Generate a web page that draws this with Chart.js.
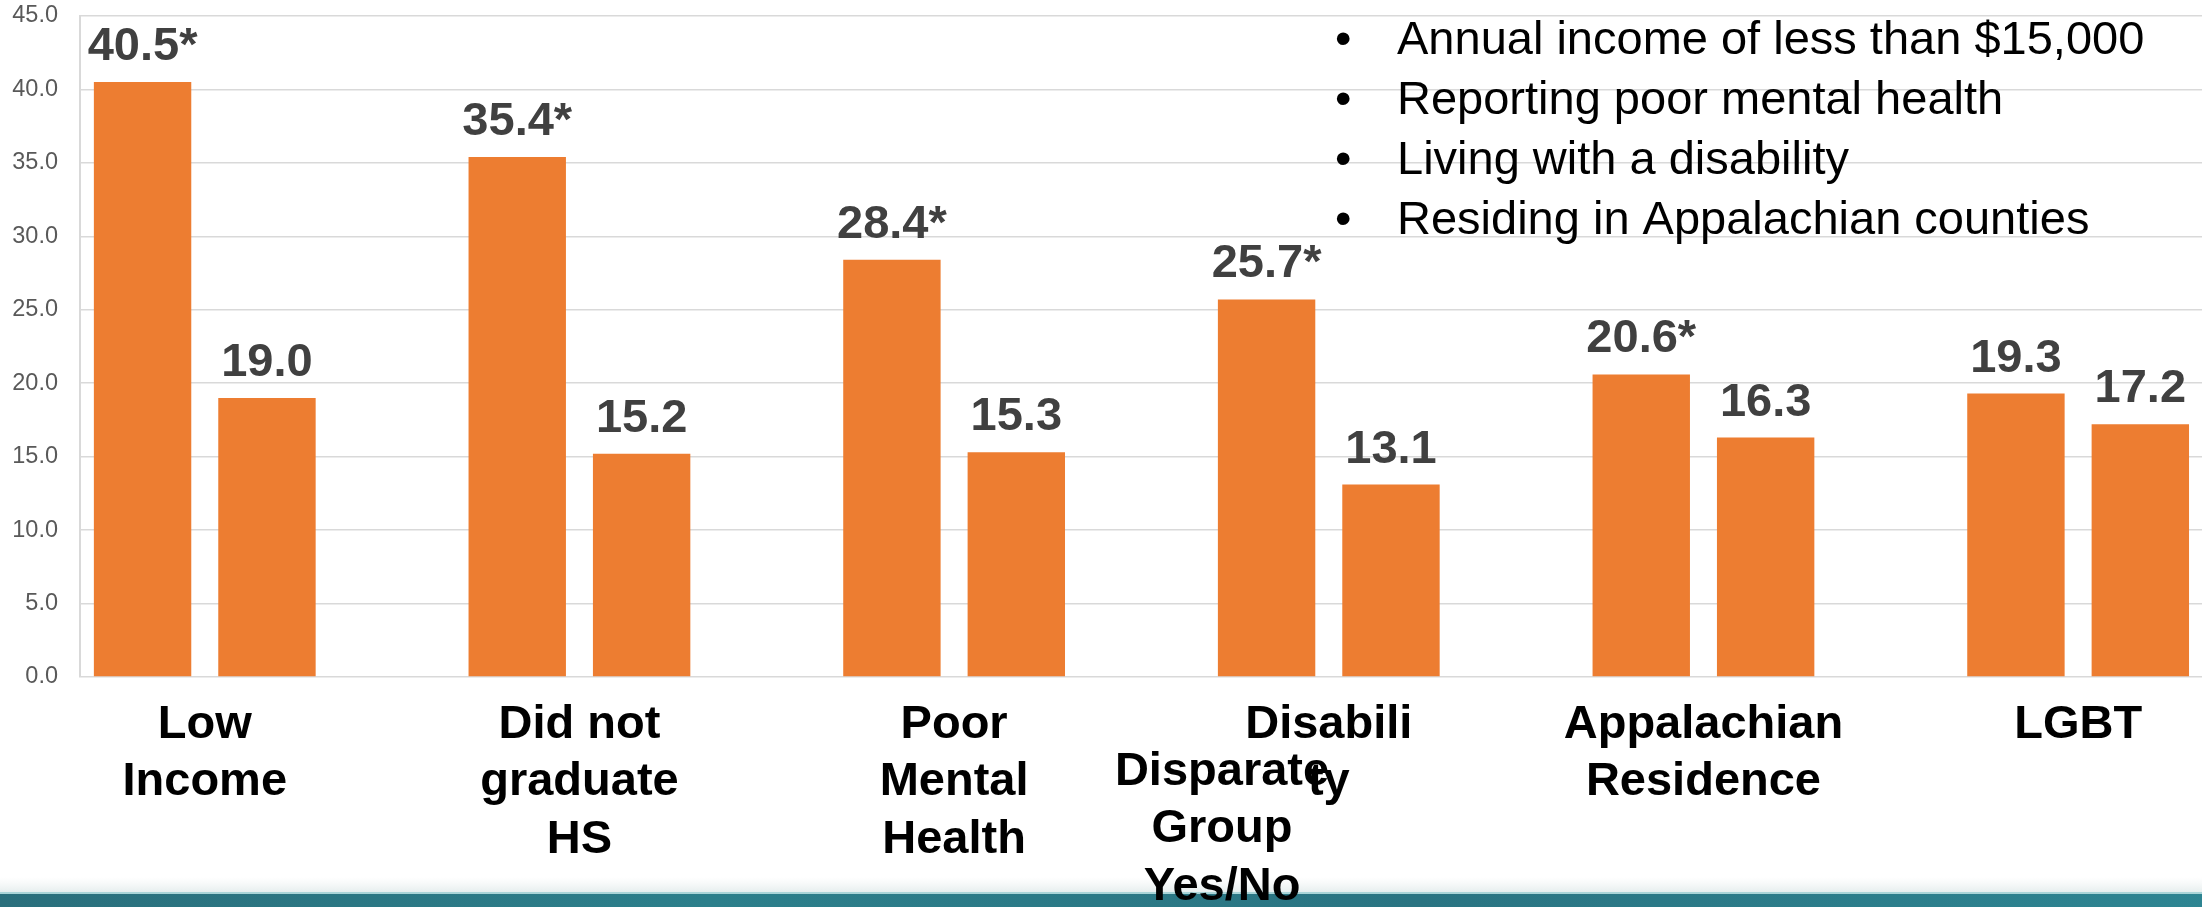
<!DOCTYPE html>
<html>
<head>
<meta charset="utf-8">
<script src="https://cdn.jsdelivr.net/npm/chart.js@4.4.0/dist/chart.umd.min.js"></script>
<style>
	html, body { margin: 0; padding: 0; overflow: hidden; background: #fff; }
	#wrap { width: 2364px; height: 907px; }
</style>
</head>
<body>
<div id="wrap"><canvas id="myChart" width="2364" height="907"></canvas></div>
<script>
// values
var groups = [['Low', 'Income'], ['Did not', 'graduate', 'HS'], ['Poor', 'Mental', 'Health'], ['Disabili', 'ty'], ['Appalachian', 'Residence'], ['LGBT']];
var yesValues = [40.5, 35.4, 28.4, 25.7, 20.6, 19.3];
var noValues = [19.0, 15.2, 15.3, 13.1, 16.3, 17.2];
var yesStar = [true, true, true, true, true, false];
var noStar = [false, false, false, false, false, false];
var yTicks = [0, 5, 10, 15, 20, 25, 30, 35, 40, 45];
var axisTitle = ['Disparate', 'Group', 'Yes/No'];
var notes = ['Annual income of less than $15,000', 'Reporting poor mental health', 'Living with a disability', 'Residing in Appalachian counties'];

const FONT = '"Liberation Sans", Arial, sans-serif';
const ORANGE = '#ED7D31';
const GRID = '#d9d9d9';

function points(values) {
	return values.map(function(v, i) { return { x: i, y: v }; });
}

// white page + teal band along the bottom
const background = {
	id: 'background',
	beforeDraw: function(chart) {
		const c = chart.ctx;
		const w = chart.width, h = chart.height;
		c.save();
		c.fillStyle = '#ffffff';
		c.fillRect(0, 0, w, h);
		let fade = c.createLinearGradient(0, h - 30, 0, h - 15);
		fade.addColorStop(0, 'rgba(240,244,244,0)');
		fade.addColorStop(1, 'rgba(230,238,238,1)');
		c.fillStyle = fade;
		c.fillRect(0, h - 30, w, 15);
		c.fillStyle = '#a9d5d8';
		c.fillRect(0, h - 15, w, 2);
		let band = c.createLinearGradient(0, 0, w, 0);
		band.addColorStop(0, '#2a6f7c');
		band.addColorStop(0.3, '#2c7f8b');
		band.addColorStop(0.6, '#2a7482');
		band.addColorStop(1, '#2e8895');
		c.fillStyle = band;
		c.fillRect(0, h - 13, w, 13);
		c.restore();
	}
};

// value labels above each bar
const barLabels = {
	id: 'barLabels',
	afterDatasetsDraw: function(chart) {
		const c = chart.ctx;
		const stars = [yesStar, noStar];
		c.save();
		c.font = 'bold 47px ' + FONT;
		c.fillStyle = '#404040';
		c.textAlign = 'center';
		c.textBaseline = 'alphabetic';
		chart.data.datasets.forEach(function(ds, d) {
			chart.getDatasetMeta(d).data.forEach(function(bar, i) {
				let txt = ds.data[i].y.toFixed(1) + (stars[d][i] ? '*' : '');
				c.fillText(txt, bar.x, bar.y - 22);
			});
		});
		c.restore();
	}
};

// bullet list in the top right corner
const bulletList = {
	id: 'bulletList',
	afterDraw: function(chart) {
		const c = chart.ctx;
		c.save();
		c.font = '47px ' + FONT;
		c.fillStyle = '#000000';
		c.textAlign = 'left';
		c.textBaseline = 'alphabetic';
		notes.forEach(function(n, i) {
			let y = 54 + i * 60;
			c.fillText('\u2022', 1335, y);
			c.fillText(n, 1397, y);
		});
		c.restore();
	}
};

const ctx = document.getElementById('myChart').getContext('2d');
const myChart = new Chart(ctx, {
	type: 'bar',
	data: {
		datasets: [{
			label: 'Yes',
			data: points(yesValues),
			backgroundColor: ORANGE,
			categoryPercentage: 0.664,
			barPercentage: 0.783
		}, {
			label: 'No',
			data: points(noValues),
			backgroundColor: ORANGE,
			categoryPercentage: 0.664,
			barPercentage: 0.783
		}]
	},
	options: {
		responsive: false,
		animation: false,
		layout: { padding: { top: 16, left: 0, right: 0, bottom: 0 } },
		plugins: {
			legend: { display: false },
			tooltip: { enabled: false }
		},
		scales: {
			x: {
				type: 'linear',
				offset: false,
				bounds: 'data',
				min: -0.333,
				max: 5.763,
				grid: { display: false, offset: false },
				border: { display: false },
				afterBuildTicks: function(scale) {
					scale.ticks = groups.map(function(g, i) { return { value: i }; });
				},
				afterFit: function(scale) {
					scale.height = 230;
				},
				ticks: {
					autoSkip: false,
					maxRotation: 0,
					padding: 11,
					color: '#000000',
					font: { family: FONT, size: 47, weight: 'bold', lineHeight: 1.223 },
					callback: function(value) {
						return groups[value];
					}
				},
				title: {
					display: true,
					text: axisTitle,
					color: '#000000',
					font: { family: FONT, size: 47, weight: 'bold', lineHeight: 1.223 },
					padding: { top: 0, bottom: -8.5 }
				}
			},
			y: {
				min: 0,
				max: 45,
				afterBuildTicks: function(scale) {
					scale.ticks = yTicks.map(function(v) { return { value: v }; });
				},
				afterFit: function(scale) {
					scale.width = 80;
				},
				grid: { color: GRID, lineWidth: 1.6, drawTicks: true, tickLength: 22, tickColor: 'rgba(0,0,0,0)' },
				border: { display: true, color: GRID, width: 2 },
				ticks: {
					padding: 0,
					color: '#595959',
					font: { family: FONT, size: 23.5 },
					callback: function(value) {
						return Number(value).toFixed(1);
					}
				}
			}
		}
	},
	plugins: [background, barLabels, bulletList]
});
</script>
</body>
</html>
